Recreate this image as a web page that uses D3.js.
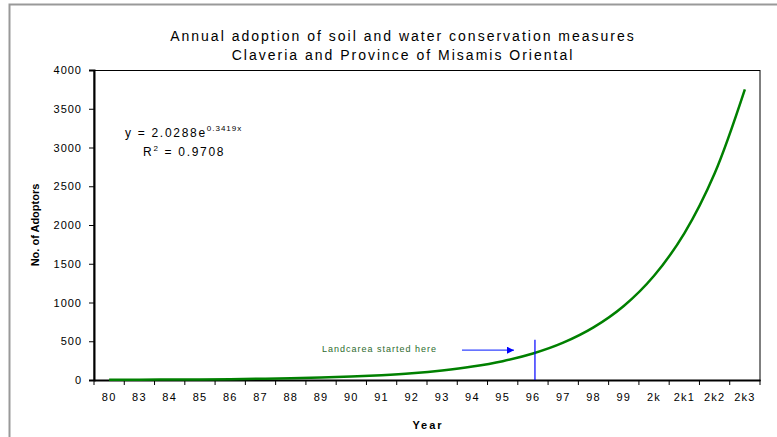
<!DOCTYPE html>
<html><head><meta charset="utf-8">
<script src="https://cdn.jsdelivr.net/npm/d3@7"></script>
<style>
body{margin:0;background:#fff;}
text{font-family:"Liberation Sans",Arial,sans-serif;}
</style></head>
<body><svg id="c" width="777" height="437"></svg>
<script>
const years = ["80","83","84","85","86","87","88","89","90","91","92","93","94","95","96","97","98","99","2k","2k1","2k2","2k3"];
const adopters = [3,4,6,8,11,16,22,31,44,62,87,123,173,243,342,482,679,955,1345,1893,2664,3750];
const yTicks = [0,500,1000,1500,2000,2500,3000,3500,4000];
const titleLines = ["Annual adoption of soil and water conservation measures","Claveria and Province of Misamis Oriental"];
const markerYear = "96";
const markerTop = 520;
const arrowValue = 385;

const svg = d3.select("#c");
const m = {l:94, r:760, t:70, b:380};

// outer frame
svg.append("rect").attr("x",9.5).attr("y",4.5).attr("width",800).attr("height",500)
  .attr("fill","none").attr("stroke","#999").attr("stroke-width",2);

const x = d3.scaleBand().domain(years).range([m.l,m.r]);
const y = d3.scaleLinear().domain([0,4000]).range([m.b,m.t]);

// plot frame
svg.append("rect").attr("x",m.l).attr("y",m.t+0.5).attr("width",m.r-m.l).attr("height",m.b-m.t)
  .attr("fill","none").attr("stroke","#000").attr("stroke-width",1);

// y axis
const ya = svg.append("g").attr("transform",`translate(${m.l},0)`)
  .call(d3.axisLeft(y).tickValues(yTicks).tickSize(5).tickPadding(7).tickFormat(d3.format("d")));
ya.select(".domain").attr("stroke","#000").attr("stroke-width",2);
ya.selectAll("text").attr("font-size",11).attr("letter-spacing",1).attr("fill","#000")
  .attr("font-family","Liberation Sans, Arial, sans-serif");

// x axis (ticks between categories)
const xa = svg.append("g").attr("transform",`translate(0,${m.b})`)
  .call(d3.axisBottom(x).tickSize(0).tickPadding(13));
xa.select(".domain").attr("stroke","#000").attr("stroke-width",2);
xa.selectAll("text").attr("font-size",11).attr("letter-spacing",1.2).attr("fill","#000")
  .attr("font-family","Liberation Sans, Arial, sans-serif");
const bounds = years.map(d=>x(d)).concat([m.r]);
svg.append("g").selectAll("line").data(bounds).join("line")
  .attr("x1",d=>d).attr("x2",d=>d).attr("y1",m.b).attr("y2",m.b+5)
  .attr("stroke","#000").attr("stroke-width",1);

// curve
const line = d3.line().x(d=>x(d[0])+x.bandwidth()/2).y(d=>y(d[1])).curve(d3.curveCatmullRom.alpha(0.5));
svg.append("path").datum(years.map((d,i)=>[d,adopters[i]]))
  .attr("d",line).attr("fill","none").attr("stroke","#008000").attr("stroke-width",2.5);

// marker line
const mx = x(markerYear)+x.bandwidth()/2+2;
svg.append("line").attr("x1",mx).attr("x2",mx).attr("y1",y(markerTop)).attr("y2",m.b)
  .attr("stroke","#0000ff").attr("stroke-width",1.2);

// arrow
svg.append("defs").append("marker").attr("id","ah").attr("viewBox","0 0 10 10")
  .attr("refX",10).attr("refY",5).attr("markerWidth",9).attr("markerHeight",7)
  .attr("markerUnits","userSpaceOnUse").attr("orient","auto")
  .append("path").attr("d","M0,0L10,5L0,10Z").attr("fill","#0000ff");
svg.append("line").attr("x1",462).attr("x2",514).attr("y1",y(arrowValue)).attr("y2",y(arrowValue))
  .attr("stroke","#3344ff").attr("stroke-width",1.2).attr("marker-end","url(#ah)");

svg.append("text").attr("x",322).attr("y",352).attr("font-size",9).attr("letter-spacing",1)
  .attr("fill","#2e6b2e").text("Landcarea started here");

// title
svg.selectAll(".title").data(titleLines).join("text").attr("class","title")
  .attr("x",403).attr("y",(d,i)=>41+i*19).attr("text-anchor","middle")
  .attr("font-size",14).attr("letter-spacing",2).attr("fill","#000").text(d=>d);

// equation
const eq = svg.append("text").attr("x",125).attr("y",137).attr("font-size",12).attr("letter-spacing",1.7).attr("fill","#000");
eq.append("tspan").text("y = 2.0288e");
eq.append("tspan").attr("dy",-6).attr("font-size",8).attr("letter-spacing",1).text("0.3419x");
const r2 = svg.append("text").attr("x",143).attr("y",156).attr("font-size",12).attr("letter-spacing",1.7).attr("fill","#000");
r2.append("tspan").text("R");
r2.append("tspan").attr("dy",-5).attr("font-size",8).text("2");
r2.append("tspan").attr("dy",5).text(" = 0.9708");

// axis titles
svg.append("text").attr("transform","translate(39,225) rotate(-90)").attr("text-anchor","middle")
  .attr("font-size",11).attr("font-weight","bold").attr("fill","#000").text("No. of Adoptors");
svg.append("text").attr("x",428).attr("y",429).attr("text-anchor","middle")
  .attr("font-size",11).attr("font-weight","bold").attr("letter-spacing",2).attr("fill","#000").text("Year");
</script></body></html>
